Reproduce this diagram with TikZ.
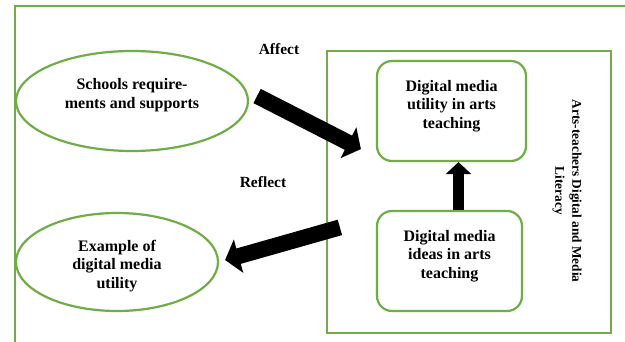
\documentclass[tikz,border=0pt]{standalone}
\usepackage{fontspec}
\setmainfont{Liberation Serif}
\usetikzlibrary{shapes.geometric,arrows.meta,calc}
\definecolor{frameGreen}{RGB}{112,173,71}
\tikzset{
  gline/.style={draw=frameGreen, line width=2.2pt},
  ellbox/.style={gline, ellipse, inner sep=0pt},
  rbox/.style={gline, rectangle, rounded corners=15pt, inner sep=0pt},
  txt/.style={align=center, font=\bfseries\fontsize{16}{18.5}\selectfont, inner sep=0pt},
  lbl/.style={font=\bfseries\fontsize{15.5}{18}\selectfont, inner sep=0pt},
  sidetxt/.style={align=center, rotate=-90, font=\bfseries\fontsize{13.3}{17}\selectfont, inner sep=0pt},
  fatarrow/.style={line width=16pt, -{Triangle[width=34pt,length=14pt]}},
  uparrow/.style={line width=11pt, -{Triangle[width=25pt,length=12pt]}},
}
\begin{document}
\begin{tikzpicture}[x=1pt,y=-1pt]
\useasboundingbox (0,0) rectangle (625,342);
\fill[white] (0,0) rectangle (625,342);
% outer frame (partly outside the page)
\draw[gline] (15,350) -- (15,6) -- (640,6);
% inner frame
\node[gline, rectangle, inner sep=0pt, minimum width=284pt, minimum height=282pt] (frame) at (469,192) {};
% shapes
\node[ellbox, minimum width=232pt, minimum height=100pt] (schools) at (132,101) {};
\node[txt] (schoolsT) at (132,95) {Schools require-\\ments and supports};
\node[ellbox, minimum width=202pt, minimum height=98pt] (example) at (117,262) {};
\node[txt] (exampleT) at (117,266) {Example of\\digital media\\utility};
\node[rbox, minimum width=149pt, minimum height=100pt] (utility) at (451.5,111) {};
\node[txt] (utilityT) at (451.5,106) {Digital media\\utility in arts\\teaching};
\node[rbox, minimum width=145pt, minimum height=100pt] (ideas) at (449.5,261) {};
\node[txt] (ideasT) at (449.5,256) {Digital media\\ideas in arts\\teaching};
% labels
\node[lbl] (affect) at (279,49) {Affect};
\node[lbl] (reflect) at (263,182) {Reflect};
\node[sidetxt] (lit) at (567,191) {Arts-teachers Digital and Media\\Literacy};
% arrows
\draw[fatarrow] ($(schools.east)+(8,-5)$) -- ($(utility.south west)+(-15,-13)$);
\draw[fatarrow] ($(ideas.north west)+(-36,17.5)$) -- ($(example.east)+(6,-2)$);
\draw[uparrow] ($(ideas.north)+(9,0)$) -- ($(utility.south)+(7,0)$);
\end{tikzpicture}
\end{document}
